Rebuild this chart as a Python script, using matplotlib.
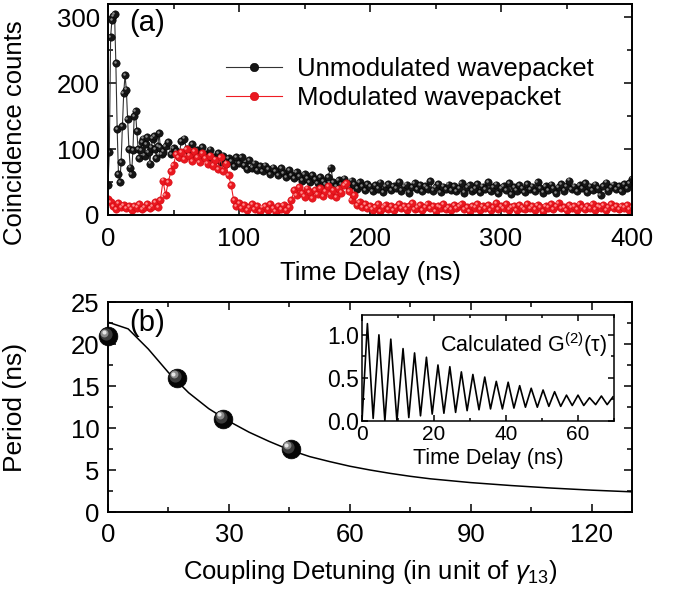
import numpy as np
import matplotlib
matplotlib.use('Agg')
import matplotlib.pyplot as plt
from matplotlib.ticker import MultipleLocator
from matplotlib.transforms import offset_copy

plt.rcParams['font.family'] = ['Liberation Sans', 'DejaVu Sans']
plt.rcParams['mathtext.fontset'] = 'custom'
plt.rcParams['mathtext.rm'] = 'Liberation Sans'
plt.rcParams['mathtext.it'] = 'Liberation Sans:italic'

# ---------------- panel (a) data ----------------
# unmodulated: 1 ns bins over the oscillating start, 2 ns bins after that
unmod_t_early = np.arange(0, 42, 1)
unmod_early = [45, 95, 270, 296, 302, 305, 230, 130, 62, 50,
               80, 135, 185, 212, 190, 145, 100, 72, 62, 98,
               150, 158, 127, 100, 86, 98, 110, 116, 90, 108,
               118, 95, 78, 102, 116, 120, 100, 86, 105, 124,
               102, 92]
unmod_t_late = np.arange(42, 401, 2)
unmod_late = [96, 104, 110, 92, 101, 97, 88, 112, 116, 100,
              95, 108, 90, 98, 84, 103, 92, 86, 99, 88,
              84, 94, 80, 90, 77, 86, 82, 74, 88, 79,
              88, 76, 70, 83, 72, 78, 68, 74, 66, 75,
              70, 62, 72, 66, 60, 71, 64, 58, 68, 61,
              56, 65, 59, 52, 62, 55, 50, 60, 54, 48,
              57, 51, 46, 58, 72, 50, 44, 53, 47, 55,
              49, 42, 52, 46, 40, 50, 44, 38, 47, 43,
              36, 45, 40, 49, 35, 43, 47, 38, 44, 41,
              50, 37, 43, 46, 34, 42, 48, 39, 45, 36,
              44, 40, 51, 37, 42, 47, 35, 43, 39, 46,
              38, 44, 36, 41, 48, 34, 42, 45, 37, 40,
              47, 35, 43, 39, 50, 36, 42, 46, 33, 41,
              44, 38, 48, 32, 42, 37, 45, 40, 35, 47,
              39, 43, 36, 50, 41, 34, 44, 38, 46, 40,
              33, 42, 47, 37, 44, 52, 39, 43, 36, 45,
              41, 48, 35, 43, 38, 46, 40, 30, 44, 49,
              37, 42, 46, 39, 44, 36, 47, 41, 48, 55]

# modulated: 2 ns bins
mod_t = np.arange(0, 401, 2)
mod_counts = [25, 20, 14, 9, 18, 12, 15, 10, 13, 8,
              14, 11, 17, 9, 12, 16, 10, 14, 19, 12,
              23, 52, 30, 50, 66, 76, 92, 88, 95, 85,
              100, 90, 82, 97, 88, 80, 94, 86, 78, 90,
              75, 84, 70, 88, 66, 78, 60, 45, 22, 14,
              18, 10, 15, 7, 12, 16, 9, 13, 6, 11,
              14, 8, 17, 10, 5, 13, 9, 15, 7, 12,
              22, 38, 30, 42, 33, 28, 40, 35, 26, 38,
              32, 41, 29, 36, 44, 31, 38, 27, 40, 34,
              45, 48, 36, 22, 30, 15, 20, 12, 17, 10,
              14, 8, 12, 17, 6, 11, 15, 9, 13, 7,
              12, 16, 10, 14, 8, 13, 18, 9, 11, 15,
              7, 12, 16, 10, 13, 6, 14, 11, 17, 9,
              12, 8, 15, 10, 13, 17, 9, 12, 6, 14,
              11, 16, 8, 13, 10, 15, 7, 12, 18, 9,
              13, 10, 16, 8, 12, 14, 7, 15, 11, 9,
              17, 10, 13, 8, 15, 12, 6, 14, 11, 16,
              9, 13, 18, 10, 12, 7, 15, 11, 14, 8,
              16, 12, 9, 14, 10, 17, 8, 13, 11, 15,
              7, 12, 16, 10, 14, 9, 13, 11, 15, 8,
              12]

# ---------------- panel (b) data ----------------
detuning = [0, 17.2, 28.6, 45.3]
period = [20.9, 15.95, 11.1, 7.5]
fit_detuning = [0, 5, 10, 15, 20, 25, 30, 35, 40, 45, 50, 55,
                60, 65, 70, 75, 80, 90, 100, 110, 120, 130]
fit_period = [22.6, 21.8, 19.4, 16.6, 14.2, 12.3, 10.8, 9.5, 8.4, 7.4, 6.6, 6.0,
              5.45, 5.0, 4.6, 4.25, 3.95, 3.5, 3.15, 2.85, 2.6, 2.4]

# inset: calculated G2, read as peaks and troughs
g2_peak_t = [1.5, 4.7, 8.0, 11.4, 14.6, 17.9, 21.1, 24.4, 27.6, 30.8, 34.1,
             37.3, 40.6, 43.8, 47.0, 50.3, 53.5, 56.8, 60.0, 63.2, 66.5, 69.7]
g2_peak = [1.13, 1.0, 0.95, 0.84, 0.79, 0.74, 0.65, 0.63, 0.57, 0.54, 0.51,
           0.46, 0.45, 0.41, 0.38, 0.36, 0.34, 0.30, 0.30, 0.27, 0.29, 0.28]
g2_trough_t = [0, 3.1, 6.35, 9.7, 13.0, 16.25, 19.5, 22.75, 26.0, 29.2, 32.5,
               35.7, 39.0, 42.2, 45.4, 48.7, 51.9, 55.2, 58.4, 61.6, 64.9, 68.1]
g2_trough = [0, 0.03, 0.0, 0.0, 0.04, 0.06, 0.08, 0.09, 0.1, 0.12, 0.13,
             0.14, 0.14, 0.15, 0.16, 0.16, 0.17, 0.17, 0.18, 0.18, 0.19, 0.19]

W, H = 676, 591
fig = plt.figure(figsize=(W / 100, H / 100), dpi=100)


def px_axes(left, top, right, bottom):
    # axes rectangle given in pixel edges of the reference
    return fig.add_axes([left / W, 1 - bottom / H, (right - left) / W, (bottom - top) / H])


def style_axes(ax, size, major_len=6, minor_len=3.5):
    ax.tick_params(which='both', direction='in', top=True, right=True,
                   labelsize=size, width=1.1)
    ax.tick_params(which='major', length=major_len)
    ax.tick_params(which='minor', length=minor_len)
    for s in ax.spines.values():
        s.set_linewidth(1.4)


# shaded balls: black disc plus lighter discs shifted up-left
def draw_spheres(ax, x, y, ms):
    ax.plot(x, y, 'o', ms=ms, color='#050505', mec='#000000', mew=0.5,
            zorder=5, clip_on=False)
    layers = [(0.65, '#3a3a3a', 0.12), (0.42, '#8a8a8a', 0.2), (0.22, '#e6e6e6', 0.24)]
    for frac, col, shift in layers:
        tr = offset_copy(ax.transData, fig=fig, x=-shift * ms, y=shift * ms, units='points')
        ax.plot(x, y, 'o', ms=ms * frac, color=col, mew=0, transform=tr,
                zorder=6, clip_on=False)


# ---------------- panel (a) ----------------
ax_a = px_axes(108, 4, 632, 215)
unmod_t = np.concatenate([unmod_t_early, unmod_t_late])
unmod_counts = unmod_early + unmod_late

ax_a.plot(unmod_t, unmod_counts, '-o', color='#333333', lw=0.8, ms=5.3,
          mfc='#161616', mec='#000000', mew=0.4, label='Unmodulated wavepacket')
hl = offset_copy(ax_a.transData, fig=fig, x=-0.9, y=0.9, units='points')
ax_a.plot(unmod_t, unmod_counts, 'o', ms=1.8, color='#8c8c8c', mew=0, transform=hl)

ax_a.plot(mod_t, mod_counts, '-o', color='#ee1c24', lw=0.8, ms=5.3,
          mfc='#ea1820', mec='#d40810', mew=0.4, label='Modulated wavepacket')
ax_a.plot(mod_t, mod_counts, 'o', ms=1.8, color='#ff9090', mew=0, transform=hl)

ax_a.set_xlim(0, 400)
ax_a.set_ylim(0, 320)
ax_a.xaxis.set_major_locator(MultipleLocator(100))
ax_a.xaxis.set_minor_locator(MultipleLocator(50))
ax_a.yaxis.set_major_locator(MultipleLocator(100))
ax_a.yaxis.set_minor_locator(MultipleLocator(50))
style_axes(ax_a, 18.5)
ax_a.tick_params(axis='x', pad=9)
ax_a.tick_params(axis='y', pad=6)
ax_a.set_xlabel('Time Delay (ns)', fontsize=18.5, labelpad=7)
ax_a.set_ylabel('Coincidence counts', fontsize=18.5)
ax_a.yaxis.set_label_coords(-0.155, 0.39)
ax_a.text(0.04, 0.91, '(a)', transform=ax_a.transAxes, fontsize=21, va='center')

ax_a.legend(loc='center left', bbox_to_anchor=(0.225, 0.625), frameon=False,
            fontsize=18.5, borderpad=0, borderaxespad=0, handlelength=2.2,
            handletextpad=0.55, labelspacing=0.2, numpoints=1, markerscale=1.15)

# ---------------- panel (b) ----------------
ax_b = px_axes(108, 302, 632, 512)
ax_b.plot(fit_detuning, fit_period, '-', color='black', lw=1.1, zorder=3)
draw_spheres(ax_b, detuning, period, 13.5)
ax_b.set_xlim(0, 130)
ax_b.set_ylim(0, 25)
ax_b.xaxis.set_major_locator(MultipleLocator(30))
ax_b.xaxis.set_minor_locator(MultipleLocator(15))
ax_b.yaxis.set_major_locator(MultipleLocator(5))
ax_b.yaxis.set_minor_locator(MultipleLocator(2.5))
style_axes(ax_b, 18.5)
ax_b.tick_params(axis='x', pad=8)
ax_b.tick_params(axis='y', pad=6)
ax_b.set_xlabel('Coupling Detuning (in unit of $\\gamma_{13}$)', fontsize=18.5, labelpad=8)
ax_b.set_ylabel('Period (ns)', fontsize=19)
ax_b.yaxis.set_label_coords(-0.155, 0.5)
ax_b.text(0.04, 0.9, '(b)', transform=ax_b.transAxes, fontsize=21, va='center')

# ---------------- inset ----------------
ax_in = px_axes(362, 315, 614, 421)
g2_t = np.array(g2_peak_t + g2_trough_t)
g2_val = np.array(g2_peak + g2_trough)
order = np.argsort(g2_t)
ax_in.plot(g2_t[order], g2_val[order], '-', color='black', lw=1.2)
ax_in.set_xlim(0, 70)
ax_in.set_ylim(0, 1.23)
ax_in.xaxis.set_major_locator(MultipleLocator(20))
ax_in.xaxis.set_minor_locator(MultipleLocator(10))
ax_in.yaxis.set_major_locator(MultipleLocator(0.5))
ax_in.yaxis.set_minor_locator(MultipleLocator(0.25))
style_axes(ax_in, 15.5, major_len=4, minor_len=2.5)
for s in ax_in.spines.values():
    s.set_linewidth(1.1)
ax_in.tick_params(axis='x', pad=3, labelsize=15)
ax_in.tick_params(axis='y', pad=2, labelsize=16.5)
ax_in.set_xlabel('Time Delay (ns)', fontsize=15.5, labelpad=3)
ax_in.text(0.97, 0.72, 'Calculated G$^{(2)}$(τ)', transform=ax_in.transAxes,
           fontsize=15.5, ha='right', va='center')

fig.savefig('out.png', dpi=100)
